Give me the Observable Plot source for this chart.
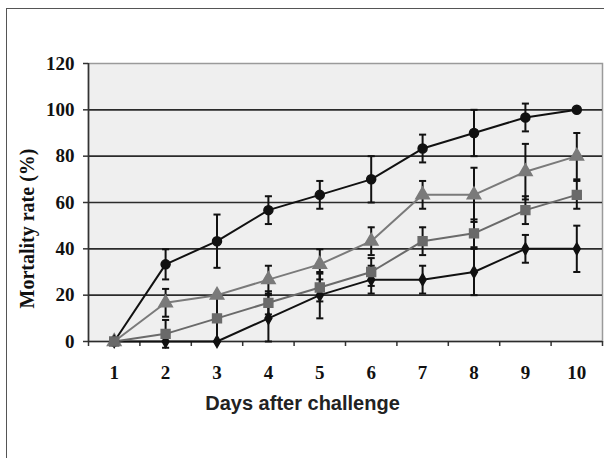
<!DOCTYPE html>
<html>
<head>
<meta charset="utf-8">
<script src="https://cdn.jsdelivr.net/npm/d3@7"></script>
<script src="https://cdn.jsdelivr.net/npm/@observablehq/plot@0.6"></script>
<style>
  html, body { margin: 0; padding: 0; background: #fff; }
  #wrap { position: relative; width: 604px; height: 458px; overflow: hidden; }
  #border { position: absolute; left: 6px; top: 8px; width: 640px; height: 500px; border: 1.5px solid #555; box-sizing: border-box; }
  #chart { position: absolute; left: 0; top: 0; }
</style>
</head>
<body>
<div id="wrap"><div id="border"></div><div id="chart"></div></div>
<script>
const days = [1, 2, 3, 4, 5, 6, 7, 8, 9, 10];
const yTicks = [0, 20, 40, 60, 80, 100, 120];
const xTitle = "Days after challenge";
const yTitle = "Mortality rate (%)";

const seriesA = [0, 33.3, 43.3, 56.7, 63.3, 70, 83.3, 90, 96.7, 100];
const errA    = [0, 6.5, 11.5, 6, 6, 10, 6, 10, 6, 0];
const seriesB = [0, 16.7, 20, 26.7, 33.3, 43.3, 63.3, 63.3, 73.3, 80];
const errB    = [0, 6, 0, 6, 6.5, 6, 6, 11.7, 12, 10];
const seriesC = [0, 3.3, 10, 16.7, 23.3, 30, 43.3, 46.7, 56.7, 63.3];
const errC    = [0, 6, 10, 5, 6, 6, 6, 6, 6, 6];
const seriesD = [0, 0, 0, 10, 20, 26.7, 26.7, 30, 40, 40];
const errD    = [0, 0, 0, 10, 10, 6, 6, 10, 6, 10];

const styles = {
  A: {color: "#111", symbol: "circle", r: 4.5},
  B: {color: "#7a7a7a", symbol: "triangle", r: 5},
  C: {color: "#6a6a6a", symbol: "square", r: 5},
  D: {color: "#111", symbol: "diamond", r: 3.6}
};

function rows(name, vals, errs) {
  return days.map((d, i) => ({series: name, day: d, value: vals[i], err: errs[i]}));
}
const data = [
  ...rows("A", seriesA, errA),
  ...rows("B", seriesB, errB),
  ...rows("C", seriesC, errC),
  ...rows("D", seriesD, errD)
];
const errData = data.filter(d => d.err > 0);

const capSymbol = {
  draw(context, size) {
    const w = Math.sqrt(size) / 2;
    context.moveTo(-w, 0);
    context.lineTo(w, 0);
  }
};

const boundaries = days.map(d => d - 0.5).concat([days[days.length - 1] + 0.5]);
const serif = "'Liberation Serif', 'Times New Roman', serif";
const sans = "'Liberation Sans', Arial, sans-serif";

const seriesMarks = [];
for (const name of ["D", "C", "B", "A"]) {
  const s = styles[name];
  const sub = data.filter(d => d.series === name);
  seriesMarks.push(Plot.line(sub, {x: "day", y: "value", stroke: s.color, strokeWidth: 2}));
}
seriesMarks.push(Plot.ruleX(errData, {x: "day", y1: d => d.value - d.err, y2: d => d.value + d.err, stroke: "#111", strokeWidth: 2}));
seriesMarks.push(Plot.dot(errData, {x: "day", y: d => d.value + d.err, symbol: capSymbol, r: 4, stroke: "#111", strokeWidth: 2, fill: "none"}));
seriesMarks.push(Plot.dot(errData, {x: "day", y: d => d.value - d.err, symbol: capSymbol, r: 4, stroke: "#111", strokeWidth: 2, fill: "none"}));
for (const name of ["B", "A", "D", "C"]) {
  const s = styles[name];
  const sub = data.filter(d => d.series === name);
  seriesMarks.push(Plot.dot(sub, {x: "day", y: "value", symbol: s.symbol, r: s.r, fill: s.color, stroke: s.color}));
}

const chart = Plot.plot({
  width: 604,
  height: 458,
  marginLeft: 88,
  marginRight: 2,
  marginTop: 63,
  marginBottom: 117,
  style: {background: "transparent", overflow: "visible"},
  x: {domain: [0.5, 10.5]},
  y: {domain: [0, 120]},
  symbol: {type: "identity"},
  marks: [
    Plot.frame({fill: "#efefef", stroke: "#9a9a9a", strokeWidth: 1.5}),
    Plot.gridY(yTicks.filter(t => t > 0 && t < 120), {stroke: "#2b2b2b", strokeOpacity: 1, strokeWidth: 1.6}),
    Plot.axisY({ticks: yTicks, tickSize: 5, tickPadding: 9, label: null, fontFamily: serif, fontSize: 19, fontWeight: "bold", fill: "#111", stroke: "#333", strokeWidth: 1.5}),
    Plot.axisX({ticks: days, tickSize: 0, tickPadding: 24, label: null, fontFamily: serif, fontSize: 19, fontWeight: "bold", fill: "#111"}),
    Plot.axisX({ticks: boundaries, tickSize: 5, tickFormat: () => "", label: null, stroke: "#333", strokeWidth: 1.5}),
    Plot.ruleX([0.5], {stroke: "#333", strokeWidth: 1.6}),
    Plot.ruleY([0], {stroke: "#2b2b2b", strokeWidth: 1.6}),
    ...seriesMarks,
    Plot.text([xTitle], {frameAnchor: "bottom", dx: -43, dy: 68, fontFamily: sans, fontSize: 20, fontWeight: "bold", fill: "#222", letterSpacing: "-0.4px"}),
    Plot.text([yTitle], {frameAnchor: "left", textAnchor: "middle", dx: -61, dy: 26, rotate: -90, fontFamily: serif, fontSize: 20, fontWeight: "bold", fill: "#111"})
  ]
});
document.getElementById("chart").appendChild(chart);
</script>
</body>
</html>
